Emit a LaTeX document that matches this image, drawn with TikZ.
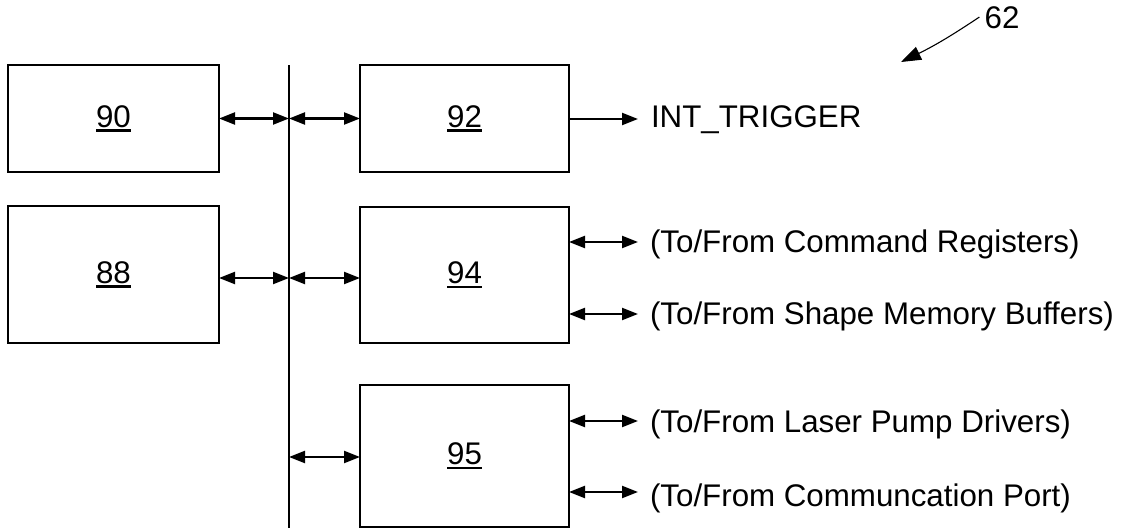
\documentclass[tikz,border=0pt]{standalone}
\usepackage{fontspec}
\setmainfont[Ligatures=NoCommon]{Liberation Sans}
\usetikzlibrary{arrows.meta}
\newcommand{\ulnum}[1]{\setbox0\hbox{#1}\rlap{\raisebox{-4.5pt}{\rule{\wd0}{2.2pt}}}\box0}
\begin{document}
\begin{tikzpicture}[x=1pt,y=-1pt,
  box/.style={draw, line width=2.6pt, rectangle, inner sep=0pt, outer sep=0pt},
  biarrow/.style={line width=2.2pt, {Triangle[length=16pt,width=12pt]}-{Triangle[length=16pt,width=12pt]}},
  onearrow/.style={line width=2.2pt, -{Triangle[length=16pt,width=12pt]}},
  lab/.style={anchor=base west, inner sep=0pt, outer sep=0pt},
  bus/.style={line width=1.5pt}]
\fontsize{31.3}{36}\selectfont
\useasboundingbox (0,0) rectangle (1127,531);
% boxes
\node[box, minimum width=211pt, minimum height=107pt] (b90) at (113.5,118.5) {\ulnum{90}};
\node[box, minimum width=209pt, minimum height=107pt] (b92) at (464.5,118.5) {\ulnum{92}};
\node[box, minimum width=211pt, minimum height=137pt] (b88) at (113.5,274.5) {\ulnum{88}};
\node[box, minimum width=209pt, minimum height=136pt] (b94) at (464.5,275) {\ulnum{94}};
\node[box, minimum width=209pt, minimum height=142pt] (b95) at (464.5,456) {\ulnum{95}};
% bus
\coordinate (bt) at (289,65);
\coordinate (bb) at (289,528);
\draw[bus] (bt) -- (bb);
% left-side arrows
\draw[biarrow] (b90.east) -- (b90.east -| bt);
\draw[biarrow] (b92.west -| bt) -- (b92.west);
\draw[biarrow] ([yshift=-3.5pt]b88.east) -- ([yshift=-3.5pt]b88.east -| bt);
\draw[biarrow] ([yshift=-3pt]b94.west -| bt) -- ([yshift=-3pt]b94.west);
\draw[biarrow] ([yshift=-1pt]b95.west -| bt) -- ([yshift=-1pt]b95.west);
% right-side labels
\node[lab] (trig) at (651,127) {INT\_TRIGGER};
\node[lab] (l1) at (650,252) {(To/From Command Registers)};
\node[lab] (l2) at (650,324) {(To/From Shape Memory Buffers)};
\node[lab] (l3) at (650,432) {(To/From Laser Pump Drivers)};
\node[lab] (l4) at (650,506) {(To/From Communcation Port)};
% arrow ends
\coordinate (a0) at (638,119);
\coordinate (a1) at (638,242);
\coordinate (a2) at (638,314);
\coordinate (a3) at (638,421);
\coordinate (a4) at (638,492);
\draw[onearrow] (b92.east |- a0) -- (a0);
\draw[biarrow] (b94.east |- a1) -- (a1);
\draw[biarrow] (b94.east |- a2) -- (a2);
\draw[biarrow] (b95.east |- a3) -- (a3);
\draw[biarrow] (b95.east |- a4) -- (a4);
% reference numeral
\node[inner sep=0pt] (n62) at (1002,18) {62};
\coordinate (p62) at (901,62);
\draw[line width=1.1pt, -{Triangle[length=20pt,width=14pt]}] ([xshift=-5pt,yshift=1pt]n62.west) to[bend left=4] (p62);
\end{tikzpicture}
\end{document}
